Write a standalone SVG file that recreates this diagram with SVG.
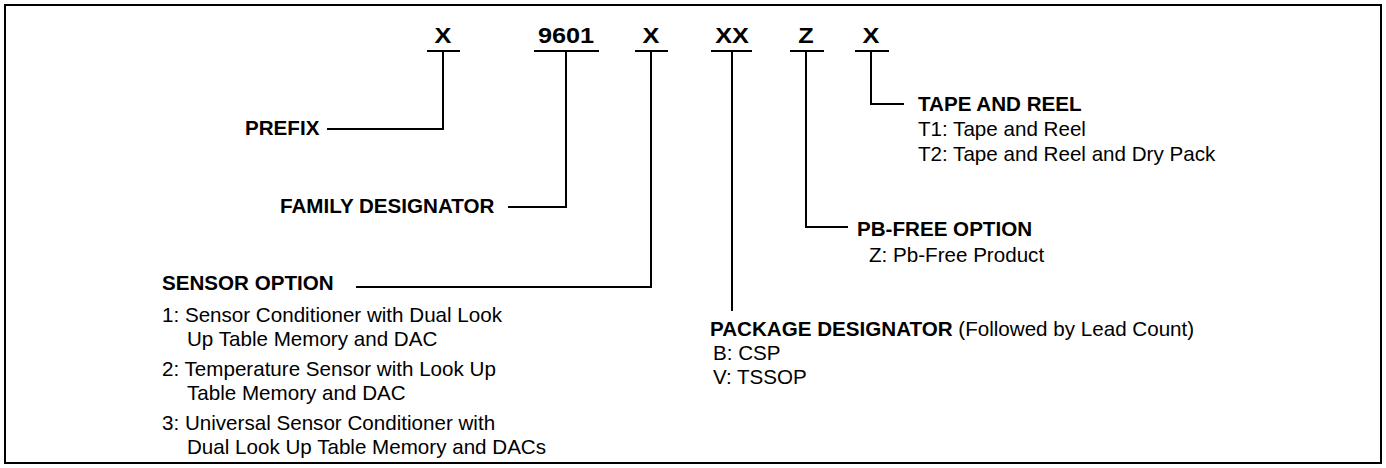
<svg xmlns="http://www.w3.org/2000/svg" width="1386" height="468" viewBox="0 0 1386 468">
<style>
text{font-family:"Liberation Sans",Arial,sans-serif;fill:#000}
.code{font-size:22px;font-weight:bold;text-anchor:middle}
.h{font-size:20.6px;font-weight:bold}
.t{font-size:20.6px}
.ln{stroke:#000;stroke-width:2;fill:none}
</style>
<rect x="5" y="5" width="1376" height="458" fill="#fff" stroke="#000" stroke-width="2"/>
<g id="codes">
<text class="code" transform="translate(443,43) scale(1.15,1)">X</text>
<text class="code" transform="translate(566,43) scale(1.15,1)">9601</text>
<text class="code" transform="translate(651,43) scale(1.15,1)">X</text>
<text class="code" transform="translate(732,43) scale(1.15,1)">XX</text>
<text class="code" transform="translate(806,43) scale(1.15,1)">Z</text>
<text class="code" transform="translate(871,43) scale(1.15,1)">X</text>
</g>
<g id="connectors" class="ln">
<path d="M427 51H460M534 51H599M635 51H668M711 51H752M790 51H824M855 51H889"/>
<path d="M443 51V129H327"/>
<path d="M566 51V207H508"/>
<path d="M651 51V287H356"/>
<path d="M732 51V311"/>
<path d="M806 51V227H848"/>
<path d="M871 51V104H904"/>
</g>
<g id="prefix"><text class="h" x="245" y="135">PREFIX</text></g>
<g id="family"><text class="h" x="280" y="213">FAMILY DESIGNATOR</text></g>
<g id="sensor">
<text class="h" x="162" y="290">SENSOR OPTION</text>
<text class="t" x="162" y="322">1: Sensor Conditioner with Dual Look</text>
<text class="t" x="187" y="346">Up Table Memory and DAC</text>
<text class="t" x="162" y="376">2: Temperature Sensor with Look Up</text>
<text class="t" x="187" y="400">Table Memory and DAC</text>
<text class="t" x="162" y="430">3: Universal Sensor Conditioner with</text>
<text class="t" x="187" y="454">Dual Look Up Table Memory and DACs</text>
</g>
<g id="package">
<text class="h" x="710" y="336">PACKAGE DESIGNATOR<tspan font-weight="normal"> (Followed by Lead Count)</tspan></text>
<text class="t" x="713" y="360">B: CSP</text>
<text class="t" x="713" y="384">V: TSSOP</text>
</g>
<g id="pbfree">
<text class="h" x="857" y="236">PB-FREE OPTION</text>
<text class="t" x="869" y="262">Z: Pb-Free Product</text>
</g>
<g id="tape">
<text class="h" x="918" y="111">TAPE AND REEL</text>
<text class="t" x="918" y="136">T1: Tape and Reel</text>
<text class="t" x="918" y="161">T2: Tape and Reel and Dry Pack</text>
</g>
</svg>
